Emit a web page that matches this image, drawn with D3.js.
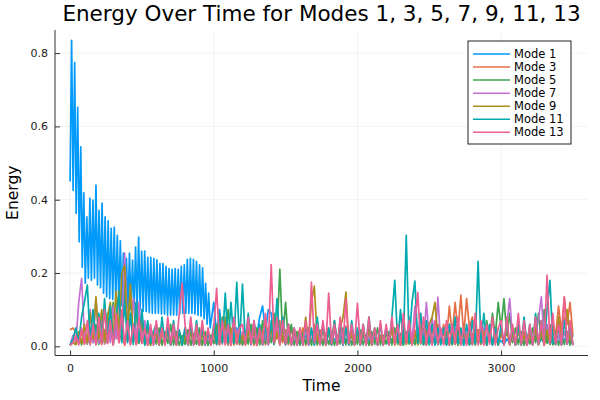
<!DOCTYPE html>
<html>
<head>
<meta charset="utf-8">
<script src="https://cdn.jsdelivr.net/npm/d3@7"></script>
<style>
  body { margin: 0; background: #ffffff; }
  svg { font-family: "DejaVu Sans", sans-serif; }
</style>
</head>
<body>
<svg id="chart" width="600" height="400"></svg>
<script>
// ---- data ----
const title = 'Energy Over Time for Modes 1, 3, 5, 7, 9, 11, 13';
const seriesNames = ['Mode 1', 'Mode 3', 'Mode 5', 'Mode 7', 'Mode 9', 'Mode 11', 'Mode 13'];
const xTicks = [0, 1000, 2000, 3000];
const yTicks = [0.0, 0.2, 0.4, 0.6, 0.8];

// mode 1 early part: one sample per half oscillation (peak / trough), t from 0
const mode1EarlyStep = 10.6;
const mode1Early = [
  0.45, 0.835, 0.426, 0.774, 0.363, 0.652, 0.285, 0.544, 0.216, 0.419,
  0.172, 0.353, 0.186, 0.404, 0.18, 0.399, 0.186, 0.44, 0.167, 0.371,
  0.16, 0.391, 0.145, 0.353, 0.135, 0.342, 0.13, 0.322, 0.128, 0.325,
  0.12, 0.303, 0.118, 0.288, 0.11, 0.254, 0.108, 0.24, 0.105, 0.254,
  0.1, 0.235, 0.1, 0.271, 0.098, 0.298, 0.1, 0.26, 0.095, 0.26,
  0.095, 0.243, 0.092, 0.243, 0.09, 0.24, 0.09, 0.236, 0.09, 0.226,
  0.088, 0.226, 0.088, 0.218, 0.085, 0.212, 0.085, 0.21, 0.085, 0.212,
  0.085, 0.21, 0.088, 0.218, 0.09, 0.222, 0.09, 0.237, 0.09, 0.24,
  0.09, 0.237, 0.088, 0.232, 0.085, 0.222, 0.082, 0.214, 0.075, 0.172,
  0.06, 0.145, 0.05
];
// mode 1 after t = 1000, every 20 time units
const mode1LateStart = 1000;
const mode1Late = [
  .12, .03, .1, .02, .06, .01, .04, .02, .05, .01,
  .03, .01, .04, .02, .06, .03, .08, .11, .04, .1,
  .09, .02, .05, .01, .03, .005, .02, .01, .03, .005,
  .02, .01, .03, .005, .02, .01, .025, .005, .02, .01,
  .015, .005, .02, .01, .03, .005, .02, .01, .015, .005,
  .02, .01, .03, .005, .02, .01, .025, .005, .02, .01,
  .015, .005, .02, .01, .03, .005, .02, .01, .015, .005,
  .02, .01, .03, .005, .02, .01, .025, .005, .02, .01,
  .015, .005, .02, .01, .03, .005, .02, .01, .015, .005,
  .02, .01, .03, .005, .02, .01, .025, .005, .02, .01,
  .015, .005, .02, .01, .03, .005, .02, .01, .015, .005,
  .02, .01, .03, .005, .02, .01, .025, .005, .02, .01,
  .015, .005, .02, .01, .02, .005
];

// other modes: every 20 time units from t = 0 to 3500
const step = 20;
const mode3 = [
  .045, .05, .04, .02, .035, .006, .03, .008, .04, .004,
  .03, .005, .045, .008, .05, .004, .06, .01, .04, .003,
  .035, .006, .05, .004, .03, .01, .04, .003, .035, .006,
  .03, .004, .04, .008, .05, .005, .03, .003, .04, .007,
  .025, .045, .004, .03, .006, .04, .003, .035, .005, .03,
  .008, .04, .004, .05, .006, .035, .003, .045, .007, .03,
  .004, .04, .008, .05, .003, .03, .006, .045, .004, .04,
  .06, .075, .02, .07, .01, .045, .005, .05, .004, .04,
  .006, .05, .003, .04, .008, .06, .004, .045, .006, .035,
  .05, .005, .07, .004, .045, .01, .055, .003, .04, .006,
  .035, .004, .05, .007, .04, .003, .045, .008, .03, .004,
  .04, .006, .05, .004, .035, .003, .045, .007, .03, .005,
  .045, .006, .055, .004, .04, .008, .05, .01, .06, .02,
  .06, .02, .11, .03, .12, .04, .14, .03, .13, .05,
  .08, .02, .04, .006, .045, .004, .03, .007, .05, .003,
  .04, .006, .05, .004, .035, .008, .045, .003, .04, .006,
  .03, .004, .045, .007, .05, .003, .04, .008, .06, .03,
  .11, .04, .135, .06, .12, .03
];
const mode5 = [
  .003, .01, .005, .03, .004, .04, .006, .05, .01, .06,
  .005, .07, .01, .09, .02, .12, .03, .15, .04, .18,
  .06, .14, .02, .1, .008, .06, .004, .05, .003, .04,
  .006, .05, .003, .04, .008, .06, .004, .04, .003, .03,
  .005, .045, .003, .035, .006, .05, .004, .04, .003, .03,
  .007, .06, .005, .08, .01, .1, .02, .07, .006, .05,
  .004, .04, .006, .06, .008, .05, .004, .07, .008, .05,
  .01, .09, .03, .21, .02, .12, .008, .06, .004, .04,
  .003, .035, .006, .05, .003, .04, .005, .03, .003, .025,
  .005, .04, .003, .03, .006, .05, .004, .035, .003, .03,
  .006, .045, .004, .03, .003, .04, .005, .05, .004, .03,
  .006, .04, .004, .05, .005, .035, .003, .04, .006, .03,
  .004, .04, .006, .05, .003, .03, .005, .045, .004, .035,
  .006, .04, .003, .03, .005, .045, .004, .035, .006, .04,
  .004, .03, .006, .05, .01, .07, .02, .09, .03, .12,
  .05, .13, .03, .09, .01, .05, .005, .04, .003, .03,
  .006, .05, .01, .09, .02, .10, .008, .06, .004, .04,
  .003, .035, .005, .04, .003, .03
];
const mode7 = [
  .003, .03, .01, .12, .185, .03, .008, .1, .01, .13,
  .01, .09, .006, .07, .01, .11, .02, .14, .03, .254,
  .04, .06, .13, .01, .12, .008, .07, .005, .05, .003,
  .04, .004, .05, .006, .035, .003, .045, .005, .03, .004,
  .05, .006, .04, .003, .035, .005, .045, .004, .03, .003,
  .03, .004, .04, .006, .05, .003, .035, .005, .045, .004,
  .04, .006, .05, .004, .035, .003, .045, .005, .03, .004,
  .04, .005, .06, .01, .08, .01, .05, .004, .03, .003,
  .045, .006, .05, .003, .04, .005, .03, .006, .05, .003,
  .035, .005, .045, .004, .04, .003, .05, .006, .03, .004,
  .04, .006, .05, .004, .035, .003, .045, .005, .03, .004,
  .05, .006, .06, .01, .045, .004, .04, .006, .08, .01,
  .11, .02, .09, .01, .12, .02, .08, .008, .134, .01,
  .05, .005, .06, .008, .05, .004, .04, .003, .035, .005,
  .03, .004, .045, .006, .05, .003, .04, .005, .035, .004,
  .04, .006, .06, .13, .02, .008, .045, .005, .03, .004,
  .04, .006, .05, .07, .135, .02, .06, .008, .04, .005,
  .03, .004, .04, .006, .035, .003
];
const mode9 = [
  .003, .01, .005, .04, .008, .06, .01, .09, .02, .135,
  .02, .1, .01, .08, .12, .02, .15, .03, .2, .22,
  .03, .17, .01, .12, .008, .08, .005, .06, .004, .04,
  .03, .003, .05, .005, .04, .004, .06, .006, .035, .003,
  .03, .004, .04, .006, .05, .003, .035, .005, .045, .004,
  .04, .006, .06, .01, .08, .005, .05, .004, .035, .006,
  .03, .004, .045, .006, .05, .003, .04, .005, .06, .008,
  .05, .005, .04, .004, .035, .006, .06, .008, .045, .005,
  .05, .008, .08, .01, .12, .164, .02, .008, .05, .004,
  .04, .005, .06, .008, .05, .08, .148, .01, .03, .004,
  .035, .004, .04, .006, .05, .003, .045, .005, .03, .004,
  .04, .006, .05, .004, .035, .003, .045, .005, .03, .004,
  .035, .004, .05, .006, .04, .06, .08, .12, .02, .008,
  .04, .005, .05, .004, .035, .003, .04, .006, .03, .004,
  .035, .004, .045, .006, .04, .003, .05, .005, .03, .004,
  .04, .006, .05, .004, .035, .003, .045, .005, .03, .004,
  .035, .005, .05, .004, .04, .003, .045, .006, .06, .01,
  .08, .01, .07, .1, .02, .008
];
const mode11 = [
  .003, .02, .05, .008, .08, .12, .167, .01, .1, .006,
  .09, .01, .13, .01, .11, .006, .08, .14, .01, .12,
  .01, .09, .005, .12, .01, .1, .004, .07, .008, .04,
  .06, .005, .08, .006, .05, .004, .07, .005, .045, .003,
  .05, .004, .06, .006, .07, .004, .05, .003, .04, .005,
  .06, .006, .09, .01, .145, .01, .12, .008, .175, .01,
  .17, .008, .09, .005, .07, .006, .06, .003, .05, .005,
  .07, .006, .13, .008, .08, .004, .06, .003, .05, .005,
  .04, .003, .06, .005, .05, .003, .08, .006, .06, .004,
  .05, .003, .07, .005, .06, .003, .05, .004, .07, .005,
  .05, .003, .06, .005, .08, .006, .05, .003, .06, .004,
  .05, .004, .08, .18, .01, .1, .006, .303, .01, .12,
  .178, .008, .09, .005, .07, .004, .06, .003, .05, .004,
  .05, .003, .06, .005, .08, .006, .05, .003, .06, .004,
  .07, .006, .232, .01, .09, .004, .06, .003, .05, .004,
  .06, .004, .07, .006, .05, .003, .06, .004, .08, .006,
  .06, .004, .09, .006, .07, .008, .1, .18, .01, .005,
  .05, .004, .07, .006, .06, .003
];
const mode13 = [
  .003, .01, .03, .004, .05, .006, .07, .004, .06, .005,
  .08, .006, .1, .008, .07, .004, .09, .01, .1, .005,
  .07, .004, .06, .006, .08, .008, .05, .003, .06, .005,
  .07, .005, .05, .003, .08, .006, .06, .004, .09, .172,
  .06, .005, .08, .006, .06, .003, .07, .005, .05, .003,
  .05, .158, .006, .07, .004, .06, .003, .08, .006, .05,
  .06, .004, .08, .006, .07, .003, .05, .005, .09, .006,
  .223, .01, .08, .004, .07, .006, .06, .003, .05, .004,
  .05, .003, .07, .006, .175, .01, .06, .004, .07, .003,
  .145, .006, .06, .004, .08, .006, .13, .008, .06, .004,
  .117, .005, .06, .003, .08, .006, .05, .003, .07, .004,
  .06, .003, .08, .006, .06, .004, .09, .008, .07, .004,
  .06, .147, .008, .08, .004, .06, .003, .07, .006, .05,
  .004, .07, .003, .06, .006, .08, .004, .05, .003, .06,
  .006, .09, .004, .07, .003, .06, .006, .08, .004, .05,
  .07, .003, .08, .006, .06, .004, .09, .006, .07, .003,
  .06, .004, .08, .006, .07, .004, .194, .008, .09, .006,
  .06, .004, .134, .006, .07, .004
];

const colors = ['#009afa', '#e36f47', '#3ea44e', '#c371d2', '#ac8e18', '#00aaae', '#ed5e93'];

// ---- build point lists ----
const mode1Points = mode1Early.map((v, i) => [i * mode1EarlyStep, v])
  .concat(mode1Late.map((v, i) => [mode1LateStart + i * step, v]));
const toPoints = arr => arr.map((v, i) => [i * step, v]);
const series = [
  mode1Points,
  toPoints(mode3),
  toPoints(mode5),
  toPoints(mode7),
  toPoints(mode9),
  toPoints(mode11),
  toPoints(mode13),
];

// ---- layout ----
const plot = { left: 55, right: 588, top: 30, bottom: 355.5 };

const svg = d3.select('#chart');

const x = d3.scaleLinear().domain([-105, 3605]).range([plot.left, plot.right]);
const y = d3.scaleLinear().domain([-0.0251, 0.8631]).range([plot.bottom, plot.top]);

// grid
svg.append('g')
  .selectAll('line')
  .data(xTicks)
  .enter()
  .append('line')
  .attr('x1', d => x(d))
  .attr('x2', d => x(d))
  .attr('y1', plot.top)
  .attr('y2', plot.bottom)
  .style('stroke', '#000')
  .style('stroke-opacity', 0.1)
  .style('stroke-width', 0.5);

svg.append('g')
  .selectAll('line')
  .data(yTicks)
  .enter()
  .append('line')
  .attr('x1', plot.left)
  .attr('x2', plot.right)
  .attr('y1', d => y(d))
  .attr('y2', d => y(d))
  .style('stroke', '#000')
  .style('stroke-opacity', 0.1)
  .style('stroke-width', 0.5);

// clip for series
svg.append('clipPath')
  .attr('id', 'plot-clip')
  .append('rect')
  .attr('x', plot.left)
  .attr('y', plot.top)
  .attr('width', plot.right - plot.left)
  .attr('height', plot.bottom - plot.top);

const line = d3.line().x(d => x(d[0])).y(d => y(d[1]));

svg.append('g')
  .attr('clip-path', 'url(#plot-clip)')
  .selectAll('path')
  .data(series)
  .enter()
  .append('path')
  .attr('d', d => line(d))
  .style('fill', 'none')
  .style('stroke', (d, i) => colors[i])
  .style('stroke-width', 1.7)
  .style('stroke-linejoin', 'round');

// axes (ticks point inward, like the reference)
const xAxis = svg.append('g')
  .attr('transform', `translate(0,${plot.bottom})`)
  .call(d3.axisBottom(x).tickValues(xTicks).tickFormat(d3.format('d')).tickSizeInner(-5).tickSizeOuter(0).tickPadding(9));
const yAxis = svg.append('g')
  .attr('transform', `translate(${plot.left},0)`)
  .call(d3.axisLeft(y).tickValues(yTicks).tickFormat(d3.format('.1f')).tickSizeInner(-5).tickSizeOuter(0).tickPadding(7));

for (const ax of [xAxis, yAxis]) {
  ax.select('.domain').style('stroke', '#333').style('stroke-width', 1);
  ax.selectAll('.tick line').style('stroke', '#333');
  ax.selectAll('text')
    .style('font-family', '"DejaVu Sans", sans-serif')
    .style('font-size', '11px')
    .style('fill', '#222');
}
// keep the domain lines spanning the whole plot box
xAxis.select('.domain').attr('d', `M${plot.left},0H${plot.right}`);
yAxis.select('.domain').attr('d', `M0,${plot.bottom}V${plot.top}`);

// labels
svg.append('text')
  .attr('x', (plot.left + plot.right) / 2)
  .attr('y', 21)
  .attr('text-anchor', 'middle')
  .style('font-size', '21.5px')
  .style('fill', '#000')
  .text(title);

svg.append('text')
  .attr('x', (plot.left + plot.right) / 2)
  .attr('y', 391)
  .attr('text-anchor', 'middle')
  .style('font-size', '15.5px')
  .style('fill', '#000')
  .text('Time');

svg.append('text')
  .attr('transform', `translate(18,${(plot.top + plot.bottom) / 2}) rotate(-90)`)
  .attr('text-anchor', 'middle')
  .style('font-size', '15.5px')
  .style('fill', '#000')
  .text('Energy');

// legend
const legend = { x: 468, y: 41, w: 103, h: 103, rowH: 13.05 };
const lg = svg.append('g');
lg.append('rect')
  .attr('x', legend.x)
  .attr('y', legend.y)
  .attr('width', legend.w)
  .attr('height', legend.h)
  .style('fill', '#fff')
  .style('stroke', '#222')
  .style('stroke-width', 1);

const items = lg.selectAll('.item')
  .data(seriesNames)
  .enter()
  .append('g')
  .attr('transform', (d, i) => `translate(0,${legend.y + 13 + i * legend.rowH})`);

items.append('line')
  .attr('x1', legend.x + 5)
  .attr('x2', legend.x + 42)
  .style('stroke', (d, i) => colors[i])
  .style('stroke-width', 1.5);

items.append('text')
  .attr('x', legend.x + 46)
  .attr('dy', '0.35em')
  .style('font-size', '11.5px')
  .style('fill', '#000')
  .text(d => d);
</script>
</body>
</html>
